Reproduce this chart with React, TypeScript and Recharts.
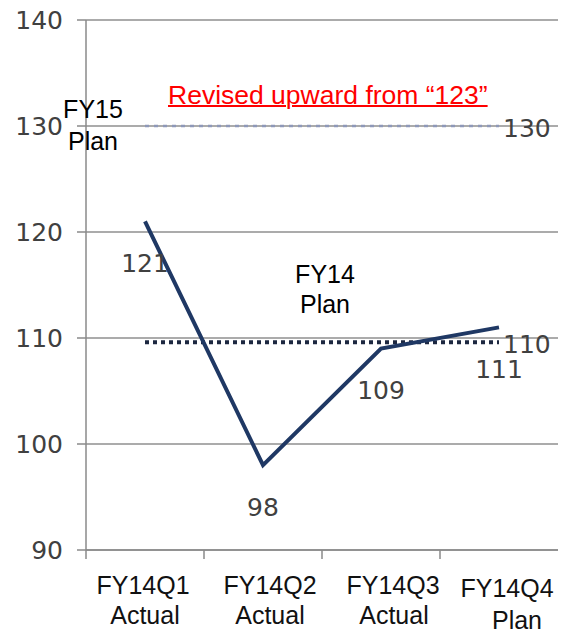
import React from "react";
import {
  LineChart,
  Line,
  XAxis,
  YAxis,
  CartesianGrid,
  LabelList,
} from "recharts";

const quarters = ["FY14Q1", "FY14Q2", "FY14Q3", "FY14Q4"];
const quarterKinds = ["Actual", "Actual", "Actual", "Plan"];
const results = [121, 98, 109, 111];
const fy15Plan = [130, 130, 130, 130];
const fy14Plan = [109.6, 109.6, 109.6, 109.6];
const yTicks = [90, 100, 110, 120, 130, 140];

const data = quarters.map((q, i) => ({
  quarter: q,
  kind: quarterKinds[i],
  result: results[i],
  fy15: fy15Plan[i],
  fy14: fy14Plan[i],
}));

const W = 563;
const H = 634;
const AXIS_Y = 550;
const HALF_BAND = 59;
const nameShift = [-2, 7, 12, 8];
const kindShift = [0, 7, 13, 18];

const sans = "'Liberation Sans', Arial, sans-serif";
const numFont = "'DejaVu Sans', Verdana, sans-serif";

function QuarterTick(props: any) {
  const { x, payload, index } = props;
  const extra = index === 3 ? 3 : 0;
  return (
    <g>
      <line x1={x - HALF_BAND} x2={x - HALF_BAND} y1={AXIS_Y} y2={AXIS_Y + 9} stroke="#8a8a8a" strokeWidth={1.5} />
      <text x={x + nameShift[index]} y={AXIS_Y + 44 + extra} textAnchor="middle" fontFamily={sans} fontSize={25} fill="#111">
        {payload.value}
      </text>
      <text x={x + kindShift[index]} y={AXIS_Y + 74 + extra * 1.5} textAnchor="middle" fontFamily={sans} fontSize={25} fill="#111">
        {quarterKinds[index]}
      </text>
    </g>
  );
}

const belowLabel = (props: any) => {
  const { x, y, value } = props;
  return (
    <text x={x} y={y + 42} textAnchor="middle" dominantBaseline="central" fontFamily={numFont} fontSize={25} fill="#404040">
      {value}
    </text>
  );
};

const endLabel = (props: any) => {
  const { x, y, value, index } = props;
  if (index !== quarters.length - 1) return null;
  return (
    <text x={x + 4} y={y + 2} dominantBaseline="central" fontFamily={numFont} fontSize={25} fill="#404040">
      {Math.round(Number(value))}
    </text>
  );
};

export default function App() {
  return (
    <div style={{ position: "absolute", left: 0, top: 0, width: W, height: H, background: "#fff" }}>
      <LineChart width={W} height={H} data={data} margin={{ top: 20, right: 5, left: 0, bottom: 0 }}>
        <CartesianGrid vertical={false} stroke="#8f8f8f" strokeWidth={1.5} />
        <XAxis
          dataKey="quarter"
          height={84}
          padding={{ left: HALF_BAND, right: HALF_BAND }}
          axisLine={{ stroke: "#8a8a8a", strokeWidth: 1.5 }}
          tickLine={false}
          tick={<QuarterTick />}
          interval={0}
        />
        <YAxis
          width={86}
          domain={[90, 140]}
          ticks={yTicks}
          interval={0}
          axisLine={{ stroke: "#8a8a8a", strokeWidth: 1.5 }}
          tickLine={{ stroke: "#8a8a8a", strokeWidth: 1.5 }}
          tickSize={9}
          tickMargin={14}
          tick={{ fontFamily: numFont, fontSize: 25, fill: "#404040" }}
        />
        <Line
          dataKey="fy15"
          stroke="#8e98b8"
          strokeWidth={2.5}
          strokeDasharray="4 5"
          dot={false}
          isAnimationActive={false}
        >
          <LabelList dataKey="fy15" content={endLabel} />
        </Line>
        <Line
          dataKey="fy14"
          stroke="#1c2740"
          strokeWidth={4}
          strokeDasharray="4 4"
          dot={false}
          isAnimationActive={false}
        >
          <LabelList dataKey="fy14" content={endLabel} />
        </Line>
        <Line
          dataKey="result"
          stroke="#1f3864"
          strokeWidth={4}
          dot={false}
          isAnimationActive={false}
        >
          <LabelList dataKey="result" content={belowLabel} />
        </Line>
      </LineChart>
      <div style={{ position: "absolute", left: 93, top: 93, transform: "translateX(-50%)", fontFamily: sans, fontSize: 25, lineHeight: "32px", textAlign: "center", color: "#000" }}>
        FY15
        <br />
        Plan
      </div>
      <div style={{ position: "absolute", left: 325, top: 259, transform: "translateX(-50%)", fontFamily: sans, fontSize: 25, lineHeight: "30px", textAlign: "center", color: "#000" }}>
        FY14
        <br />
        Plan
      </div>
      <div style={{ position: "absolute", left: 168, top: 80, fontFamily: sans, fontSize: 26.5, lineHeight: "30px", color: "#ff0000", textDecoration: "underline", textDecorationThickness: 2, whiteSpace: "nowrap" }}>
        Revised upward from “123”
      </div>
    </div>
  );
}
